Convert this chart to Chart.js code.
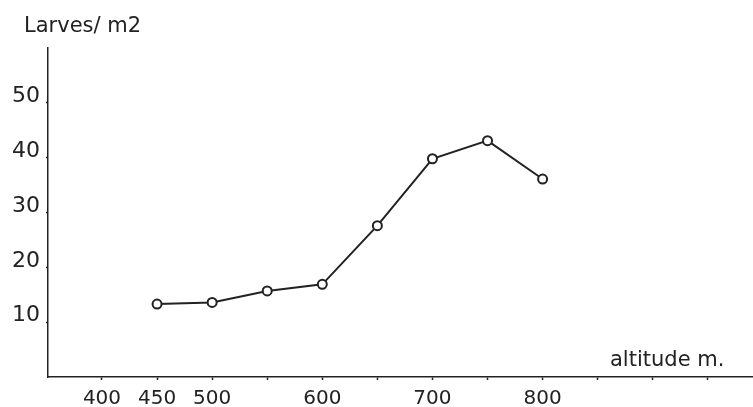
<!DOCTYPE html>
<html>
<head>
<meta charset="utf-8">
<script src="https://cdn.jsdelivr.net/npm/chart.js@4/dist/chart.umd.min.js"></script>
<style>
html,body{margin:0;padding:0;background:#fff;}
#wrap{width:753px;height:407px;position:relative;}
</style>
</head>
<body>
<div id="wrap"><canvas id="c"></canvas></div>
<script>
const altitudes = [450, 500, 550, 600, 650, 700, 750, 800];
const larves = [13.3, 13.6, 15.7, 16.9, 27.6, 39.8, 43.1, 36.1];
const xTickValues = [400, 450, 500, 550, 600, 650, 700, 750, 800, 850, 900, 950];
const xTickLabels = {400:'400', 450:'450', 500:'500', 600:'600', 700:'700', 800:'800'};
const yTickValues = [10, 20, 30, 40, 50];
const yTitle = 'Larves/ m2';
const xTitle = 'altitude m.';

const ink = '#222';
const fontFam = '"DejaVu Sans", sans-serif';

const textPlugin = {
  id: 'texts',
  afterDraw(chart) {
    const ctx = chart.ctx;
    ctx.save();
    ctx.fillStyle = ink;
    ctx.font = '21px ' + fontFam;
    ctx.textBaseline = 'alphabetic';
    ctx.textAlign = 'left';
    ctx.fillText(yTitle, 24, 32);
    ctx.fillText(xTitle, 610, 366);
    ctx.restore();
  }
};

new Chart(document.getElementById('c'), {
  type: 'line',
  data: {
    datasets: [{
      data: altitudes.map((a, i) => ({x: a, y: larves[i]})),
      borderColor: ink,
      borderWidth: 2,
      pointRadius: 4.5,
      pointBorderWidth: 2,
      pointBackgroundColor: '#fff',
      pointBorderColor: ink,
      tension: 0,
      clip: false
    }]
  },
  options: {
    responsive: true,
    maintainAspectRatio: false,
    animation: false,
    layout: {autoPadding: false, padding: {top: 48, right: 0, left: 0, bottom: 0}},
    plugins: {legend: {display: false}, tooltip: {enabled: false}},
    scales: {
      x: {
        type: 'linear',
        min: 351,
        max: 991,
        afterBuildTicks: (axis) => { axis.ticks = xTickValues.map(v => ({value: v})); },
        afterFit: (axis) => { axis.paddingRight = 0; axis.paddingLeft = 0; axis.height = 30; },
        ticks: {
          autoSkip: false,
          maxRotation: 0,
          color: ink,
          font: {family: fontFam, size: 20, lineHeight: 1},
          padding: 9,
          callback: (v) => xTickLabels[v] || ''
        },
        grid: {drawOnChartArea: false, tickLength: 3, tickColor: ink, tickWidth: 1.5},
        border: {color: ink, width: 1.5}
      },
      y: {
        min: 0,
        max: 60,
        afterBuildTicks: (axis) => { axis.ticks = yTickValues.map(v => ({value: v})); },
        afterFit: (axis) => { axis.width = 48; axis.paddingTop = 0; axis.paddingBottom = 0; },
        ticks: {
          color: ink,
          font: {family: fontFam, size: 22, lineHeight: 1},
          padding: 6,
          labelOffset: -6.5
        },
        grid: {drawOnChartArea: false, tickLength: 2, tickColor: ink, tickWidth: 1.5},
        border: {color: ink, width: 1.5}
      }
    }
  },
  plugins: [textPlugin]
});
</script>
</body>
</html>
